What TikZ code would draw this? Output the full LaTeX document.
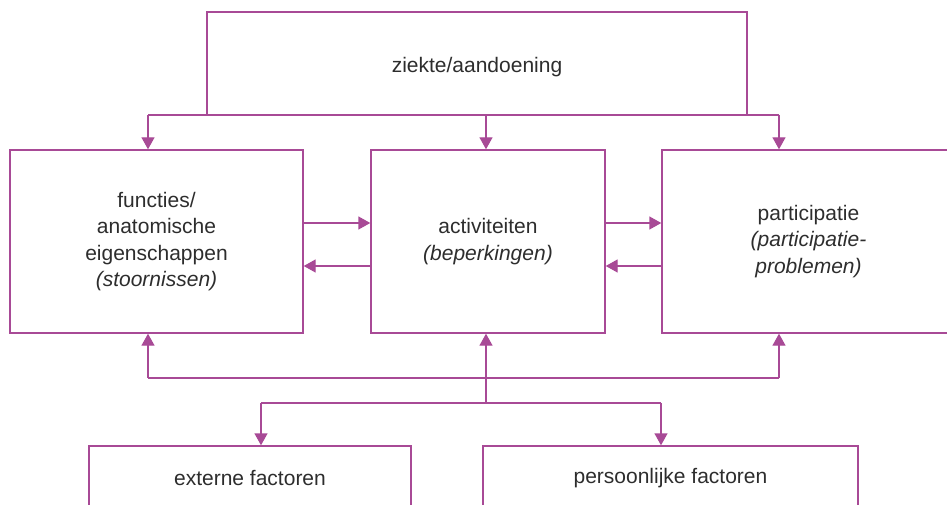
\documentclass[tikz,border=0pt]{standalone}
\usepackage{fontspec}
\setmainfont{Liberation Sans}
\usepackage{tikz}
\usetikzlibrary{arrows.meta,calc,positioning}
\definecolor{icf_line}{RGB}{168, 74, 150}
\definecolor{icf_text}{RGB}{45, 45, 45}
\tikzset{
  icfbox/.style = {draw=icf_line, line width=1.4pt, rectangle, align=center, text=icf_text,
  inner sep=2pt, font=\fontsize{21}{26.2}\selectfont},
  icf_n/.style = {icfbox, minimum height=183pt},
  icf_b/.style = {icfbox, minimum height=64pt}
}

\begin{document}
\begin{tikzpicture}[x=1pt,y=-1pt,>={Triangle[length=12pt,width=13pt]},
        	link/.style={draw=icf_line, line width=1.4pt}]
            \useasboundingbox (0,0) rectangle (947,505);
            \clip (0,0) rectangle (947,505);
            % boxes
            \node [icfbox, minimum width=540pt, minimum height=103pt, text height=23pt, text depth=5pt]
                (ziekte) at (477,63.5) {ziekte/aandoening};
            \node [icf_n, minimum width=293pt] (functies) at (156.5,241.5)
                {functies/\\anatomische\\eigenschappen\\\textit{(stoornissen)}};
            \node [icf_n, minimum width=234pt] (activiteiten) at (488,241.5)
                {activiteiten\\\textit{(beperkingen)}};
            \node [icf_n, minimum width=293pt] (participatie) at (808.5,241.5)
                {participatie\\\textit{(participatie-}\\\textit{problemen)}};
            \node [icf_b, minimum width=322pt] (externe) at (250,478) {externe factoren};
            \node [icf_b, minimum width=375pt] (persoonlijk) at (670.5,478) {persoonlijke factoren};
            % top distribution
            \coordinate (t1) at (148,115);
            \coordinate (t3) at (779,115);
            \draw [link] (t1) -- (t3);
            \draw [link,->] (t1) -- (t1 |- functies.north);
            \draw [link,->] (ziekte.south -| 486,0) -- (486,0 |- activiteiten.north);
            \draw [link,->] (t3) -- (t3 |- participatie.north);
            % between the boxes
            \draw [link,->] ([yshift=18.5pt]functies.east) -- ([yshift=18.5pt]activiteiten.west);
            \draw [link,->] ([yshift=-24.5pt]activiteiten.west) -- ([yshift=-24.5pt]functies.east);
            \draw [link,->] ([yshift=18.5pt]activiteiten.east) -- ([yshift=18.5pt]participatie.west);
            \draw [link,->] ([yshift=-24.5pt]participatie.west) -- ([yshift=-24.5pt]activiteiten.east);
            % bottom distribution
            \coordinate (b1) at (148,378);
            \coordinate (b3) at (779,378);
            \coordinate (m) at (486,403);
            \coordinate (l) at (261,403);
            \coordinate (r) at (661,403);
            \draw [link] (b1) -- (b3);
            \draw [link,->] (b1) -- (b1 |- functies.south);
            \draw [link,->] (b3) -- (b3 |- participatie.south);
            \draw [link,->] (m) -- (m |- activiteiten.south);
            \draw [link] (l) -- (r);
            \draw [link,->] (l) -- (l |- externe.north);
            \draw [link,->] (r) -- (r |- persoonlijk.north);
        \end{tikzpicture}
\end{document}
